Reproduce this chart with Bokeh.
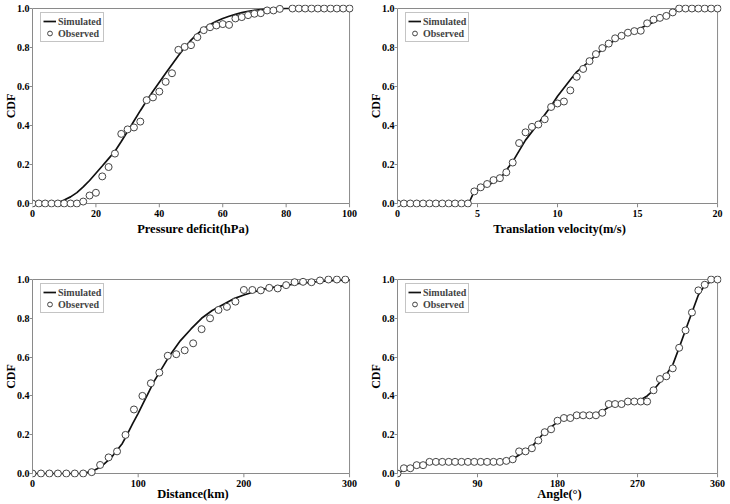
from bokeh.plotting import figure
from bokeh.layouts import column, row
from bokeh.models import Range1d, FixedTicker, PrintfTickFormatter, Legend, LinearAxis
from bokeh.embed import file_html
from bokeh.resources import INLINE

# ---------------- data ----------------
y_ticks = [0.0, 0.2, 0.4, 0.6, 0.8, 1.0]

# Panel 1: Pressure deficit (hPa)
p1_xticks = [0, 20, 40, 60, 80, 100]
p1_obs_x = [0, 2, 4, 6, 8, 10, 12, 14, 16, 18, 20, 22, 24, 26, 28, 30, 32, 34, 36, 38,
            40, 42, 44, 46, 48, 50, 52, 54, 56, 58, 60, 62, 64, 66, 68, 70, 72, 74, 76, 78,
            82, 84, 86, 88, 90, 92, 94, 96, 98, 100]
p1_obs_y = [0, 0, 0, 0, 0, 0, 0, 0, 0.01, 0.041, 0.055, 0.139, 0.187, 0.256, 0.357, 0.38,
            0.39, 0.42, 0.53, 0.544, 0.574, 0.624, 0.668, 0.788, 0.803, 0.812, 0.853, 0.889,
            0.904, 0.913, 0.92, 0.916, 0.949, 0.956, 0.966, 0.973, 0.976, 0.99, 0.99, 0.998,
            1, 1, 1, 1, 1, 1, 1, 1, 1, 1]
p1_sim_x = [0, 6, 8, 10, 12, 14, 16, 18, 20, 22, 24, 26, 28, 30, 32, 34, 36, 38, 40, 42,
            44, 46, 48, 50, 52, 54, 56, 58, 60, 62, 64, 66, 68, 70, 72, 76, 80, 100]
p1_sim_y = [0, 0, 0.004, 0.018, 0.034, 0.056, 0.085, 0.118, 0.155, 0.192, 0.23, 0.268,
            0.318, 0.37, 0.423, 0.476, 0.527, 0.576, 0.622, 0.668, 0.713, 0.758, 0.80,
            0.838, 0.87, 0.896, 0.918, 0.935, 0.949, 0.96, 0.97, 0.979, 0.986, 0.991,
            0.995, 0.998, 1.0, 1.0]

# Panel 2: Translation velocity (m/s)
p2_xticks = [0, 5, 10, 15, 20]
p2_obs_x = [0, 0.4, 0.8, 1.2, 1.6, 2.0, 2.4, 2.8, 3.2, 3.6, 4.0, 4.4, 4.8, 5.2, 5.6, 6.0,
            6.4, 6.8, 7.2, 7.6, 8.0, 8.4, 8.8, 9.2, 9.6, 10.0, 10.4, 10.8, 11.2, 11.6, 12.0,
            12.4, 12.8, 13.2, 13.6, 14.0, 14.4, 14.8, 15.2, 15.6, 16.0, 16.4, 16.8, 17.2,
            17.6, 18.0, 18.4, 18.8, 19.2, 19.6, 20.0]
p2_obs_y = [0, 0, 0, 0, 0, 0, 0, 0, 0, 0, 0, 0, 0.062, 0.083, 0.10, 0.12, 0.13, 0.16, 0.21,
            0.31, 0.365, 0.393, 0.405, 0.432, 0.495, 0.513, 0.523, 0.58, 0.65, 0.69, 0.73,
            0.766, 0.797, 0.82, 0.847, 0.86, 0.876, 0.884, 0.886, 0.924, 0.943, 0.952, 0.962,
            0.98, 1, 1, 1, 1, 1, 1, 1]
p2_sim_x = [0, 4.45, 4.8, 5.6, 6.4, 7.2, 8.0, 8.8, 9.6, 10.0, 10.8, 11.2, 12.0, 12.8, 13.6,
            14.0, 14.8, 15.2, 16.0, 16.8, 17.2, 17.6, 20]
p2_sim_y = [0, 0, 0.063, 0.092, 0.125, 0.215, 0.325, 0.41, 0.50, 0.55, 0.635, 0.675, 0.73,
            0.79, 0.84, 0.86, 0.885, 0.90, 0.93, 0.96, 0.978, 0.998, 1.0]

# Panel 3: Distance (km)
p3_xticks = [0, 100, 200, 300]
p3_obs_x = [0, 8, 16, 24, 32, 40, 48, 56, 64, 72, 80, 88, 96, 104, 112, 120, 128, 136, 144,
            152, 160, 168, 176, 184, 192, 200, 208, 216, 224, 232, 240, 248, 256, 264, 272,
            280, 288, 296]
p3_obs_y = [0, 0, 0, 0, 0, 0, 0, 0.007, 0.044, 0.083, 0.114, 0.199, 0.33, 0.40, 0.465, 0.52,
            0.607, 0.615, 0.635, 0.671, 0.744, 0.80, 0.843, 0.859, 0.886, 0.946, 0.946, 0.944,
            0.957, 0.954, 0.971, 0.986, 0.988, 0.986, 0.995, 1.0, 1.0, 1.0]
p3_sim_x = [0, 45, 55, 65, 75, 85, 90, 95, 100, 105, 110, 115, 120, 125, 130, 140, 150, 160,
            170, 180, 190, 200, 210, 220, 230, 240, 250, 260, 270, 280, 290, 300]
p3_sim_y = [0, 0, 0.008, 0.035, 0.085, 0.155, 0.205, 0.26, 0.31, 0.365, 0.42, 0.475, 0.52,
            0.565, 0.61, 0.685, 0.745, 0.80, 0.84, 0.87, 0.9, 0.92, 0.937, 0.952, 0.962,
            0.97, 0.978, 0.984, 0.989, 0.993, 0.996, 0.998]

# Panel 4: Angle (deg)
p4_xticks = [0, 90, 180, 270, 360]
p4_obs_x = [0, 7.2, 14.4, 21.6, 28.8, 36, 43.2, 50.4, 57.6, 64.8, 72, 79.2, 86.4, 93.6,
            100.8, 108, 115.2, 122.4, 129.6, 136.8, 144, 151.2, 158.4, 165.6, 172.8, 180,
            187.2, 194.4, 201.6, 208.8, 216, 223.2, 230.4, 237.6, 244.8, 252, 259.2, 266.4,
            273.6, 280.8, 288, 295.2, 302.4, 309.6, 316.8, 324, 331.2, 338.4, 345.6, 352.8, 360]
p4_obs_y = [0, 0.027, 0.027, 0.043, 0.043, 0.06, 0.06, 0.06, 0.06, 0.06, 0.06, 0.06, 0.06,
            0.06, 0.06, 0.06, 0.06, 0.065, 0.073, 0.114, 0.114, 0.13, 0.17, 0.213, 0.228,
            0.272, 0.286, 0.286, 0.30, 0.30, 0.30, 0.30, 0.313, 0.358, 0.358, 0.358, 0.371,
            0.371, 0.371, 0.371, 0.429, 0.487, 0.501, 0.542, 0.648, 0.738, 0.83, 0.944,
            0.973, 1.0, 1.0]
p4_sim_x = [0, 7.2, 14.4, 21.6, 28.8, 36, 50, 100, 115, 122.4, 129.6, 136.8, 144, 151.2,
            158.4, 165.6, 172.8, 180, 187.2, 194.4, 201.6, 216, 223.2, 230.4, 237.6, 244.8,
            259.2, 273.6, 280.8, 288, 295.2, 302.4, 309.6, 316.8, 324, 331.2, 338.4, 345.6,
            352.8, 360]
p4_sim_y = [0, 0.018, 0.03, 0.04, 0.048, 0.055, 0.058, 0.06, 0.062, 0.066, 0.075, 0.095,
            0.115, 0.14, 0.175, 0.215, 0.24, 0.265, 0.285, 0.295, 0.30, 0.305, 0.31, 0.32,
            0.343, 0.357, 0.37, 0.38, 0.40, 0.43, 0.47, 0.51, 0.56, 0.648, 0.74, 0.83, 0.92,
            0.97, 0.99, 1.0]

FONT = "Liberation Serif"
AX_COL = "#8a8a8a"


def style_text(a, label_size="12.5px"):
    a.major_label_text_font = FONT
    a.major_label_text_font_style = "bold"
    a.major_label_text_font_size = "10px"
    a.major_label_text_color = "#000000"
    a.axis_label_text_font = FONT
    a.axis_label_text_font_style = "bold"
    a.axis_label_text_font_size = label_size
    a.axis_label_text_color = "#000000"


def panel(obs_x, obs_y, sim_x, sim_y, xticks, xlabel, width, height,
          bl, br, bt, bb, pady_px, plot_px, ax_label_standoff=2):
    xmax = xticks[-1]
    padx = xmax * 4.0 / (width - bl - br)
    pady = pady_px / plot_px
    p = figure(width=width, height=height, output_backend="svg", toolbar_location=None,
               x_range=Range1d(0, xmax + padx), y_range=Range1d(-pady, 1 + pady),
               min_border_left=bl, min_border_right=br, min_border_top=bt,
               min_border_bottom=bb, x_axis_location=None)
    p.outline_line_color = None
    p.grid.visible = False
    p.background_fill_color = "white"
    p.border_fill_color = "white"

    n = len(xticks)
    # x axis rule at y = 0 and its outward ticks (inside the small padding strip)
    p.segment(x0=[xticks[0]], y0=[y_ticks[0]], x1=[xmax], y1=[y_ticks[0]],
              line_color=AX_COL, line_width=1)
    p.segment(x0=xticks, y0=[y_ticks[0]] * n, x1=xticks, y1=[-pady] * n,
              line_color=AX_COL, line_width=1)
    # frame top/right lines
    p.segment(x0=[xticks[0]], y0=[y_ticks[-1]], x1=[xmax], y1=[y_ticks[-1]],
              line_color=AX_COL, line_width=1)
    p.segment(x0=[xmax], y0=[y_ticks[0]], x1=[xmax], y1=[y_ticks[-1]],
              line_color=AX_COL, line_width=1)

    lr = p.line(sim_x, sim_y, line_color="#111111", line_width=1.7)
    sr = p.scatter(obs_x, obs_y, marker="circle", size=7, line_color="#444444",
                   line_width=1, fill_color="white")

    # x axis labels below the frame
    xa = LinearAxis(ticker=FixedTicker(ticks=xticks), axis_line_color=None,
                    major_tick_line_color=None, minor_tick_line_color=None,
                    major_tick_in=0, major_tick_out=0, major_label_standoff=2,
                    axis_label=xlabel, axis_label_standoff=ax_label_standoff)
    style_text(xa)
    p.add_layout(xa, "below")

    ya = p.yaxis[0]
    ya.bounds = (0, 1)
    ya.ticker = FixedTicker(ticks=y_ticks)
    ya.formatter = PrintfTickFormatter(format="%.1f")
    ya.axis_label = "CDF"
    ya.axis_line_color = AX_COL
    ya.major_tick_line_color = AX_COL
    ya.minor_tick_line_color = None
    ya.major_tick_out = 3
    ya.major_tick_in = 0
    ya.major_label_standoff = 0
    ya.axis_label_standoff = -4
    style_text(ya, "12px")

    leg = Legend(items=[("Simulated", [lr]), ("Observed", [sr])], location="top_left",
                 margin=8, padding=2, spacing=0, glyph_width=13, glyph_height=12,
                 label_standoff=2, label_height=12,
                 label_text_font=FONT, label_text_font_style="bold",
                 label_text_font_size="10px", border_line_color=AX_COL,
                 background_fill_alpha=1.0)
    p.add_layout(leg)
    return p


f1 = panel(p1_obs_x, p1_obs_y, p1_sim_x, p1_sim_y, p1_xticks, "Pressure deficit(hPa)",
           365, 245, 31, 12, 4, 38, 4, 195)
f2 = panel(p2_obs_x, p2_obs_y, p2_sim_x, p2_sim_y, p2_xticks, "Translation velocity(m/s)",
           365, 245, 32, 9, 4, 38, 4, 195)
f3 = panel(p3_obs_x, p3_obs_y, p3_sim_x, p3_sim_y, p3_xticks, "Distance(km)",
           365, 259, 31, 12, 30, 27, 4, 194, ax_label_standoff=-3)
f4 = panel(p4_obs_x, p4_obs_y, p4_sim_x, p4_sim_y, p4_xticks, "Angle(°)",
           365, 259, 32, 9, 30, 27, 4, 194, ax_label_standoff=-3)

layout = column(row(f1, f2), row(f3, f4))
open("out.html", "w").write(file_html(layout, INLINE))
